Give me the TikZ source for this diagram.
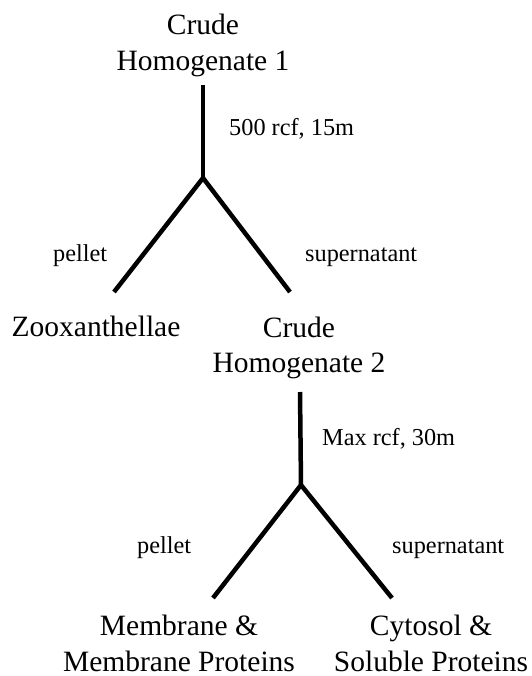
\documentclass[tikz,border=0pt]{standalone}
\usepackage{fontspec}
\setmainfont{Liberation Serif}
\begin{document}
\begin{tikzpicture}[x=1pt,y=-1pt,
  big/.style={font=\fontsize{29.5}{35.5}\selectfont,align=center,inner sep=0pt,anchor=base},
  small/.style={font=\fontsize{24.3}{29}\selectfont,inner sep=0pt,anchor=base west},
  branch/.style={line width=4.5pt}]
\useasboundingbox (0,0) rectangle (531,676);
% nodes (base anchor = baseline of last line)
\node[big] (top) at (203,70.5) {Crude\\Homogenate 1};
\node[big] (zoox) at (96,336) {Zooxanthellae};
\node[big] (ch2) at (299,372.5) {Crude\\Homogenate 2};
\node[big,text depth=0pt] (mem) at (179,671) {Membrane \&\\Membrane Proteins};
\node[big,text depth=0pt] (cyt) at (431,671) {Cytosol \&\\Soluble Proteins};
% connector points
\coordinate (s1) at (203,85);
\coordinate (j1) at (203,178);
\coordinate (l1) at (114,292);
\coordinate (r1) at (290,292);
\coordinate (s2) at (300,392);
\coordinate (j2) at (301,485);
\coordinate (l2) at (213,598);
\coordinate (r2) at (392,598);
% connectors
\draw[branch] (s1) -- (j1);
\draw[branch] (l1) -- (j1) -- (r1);
\draw[branch] (s2) -- (j2);
\draw[branch] (l2) -- (j2) -- (r2);
% labels
\node[small] (c1) at (229,136) {500 rcf, 15m};
\node[small] (p1) at (53,261) {pellet};
\node[small] (su1) at (305,261) {supernatant};
\node[small] (c2) at (322,445) {Max rcf, 30m};
\node[small] (p2) at (137,553) {pellet};
\node[small] (su2) at (392,553) {supernatant};
\end{tikzpicture}
\end{document}
